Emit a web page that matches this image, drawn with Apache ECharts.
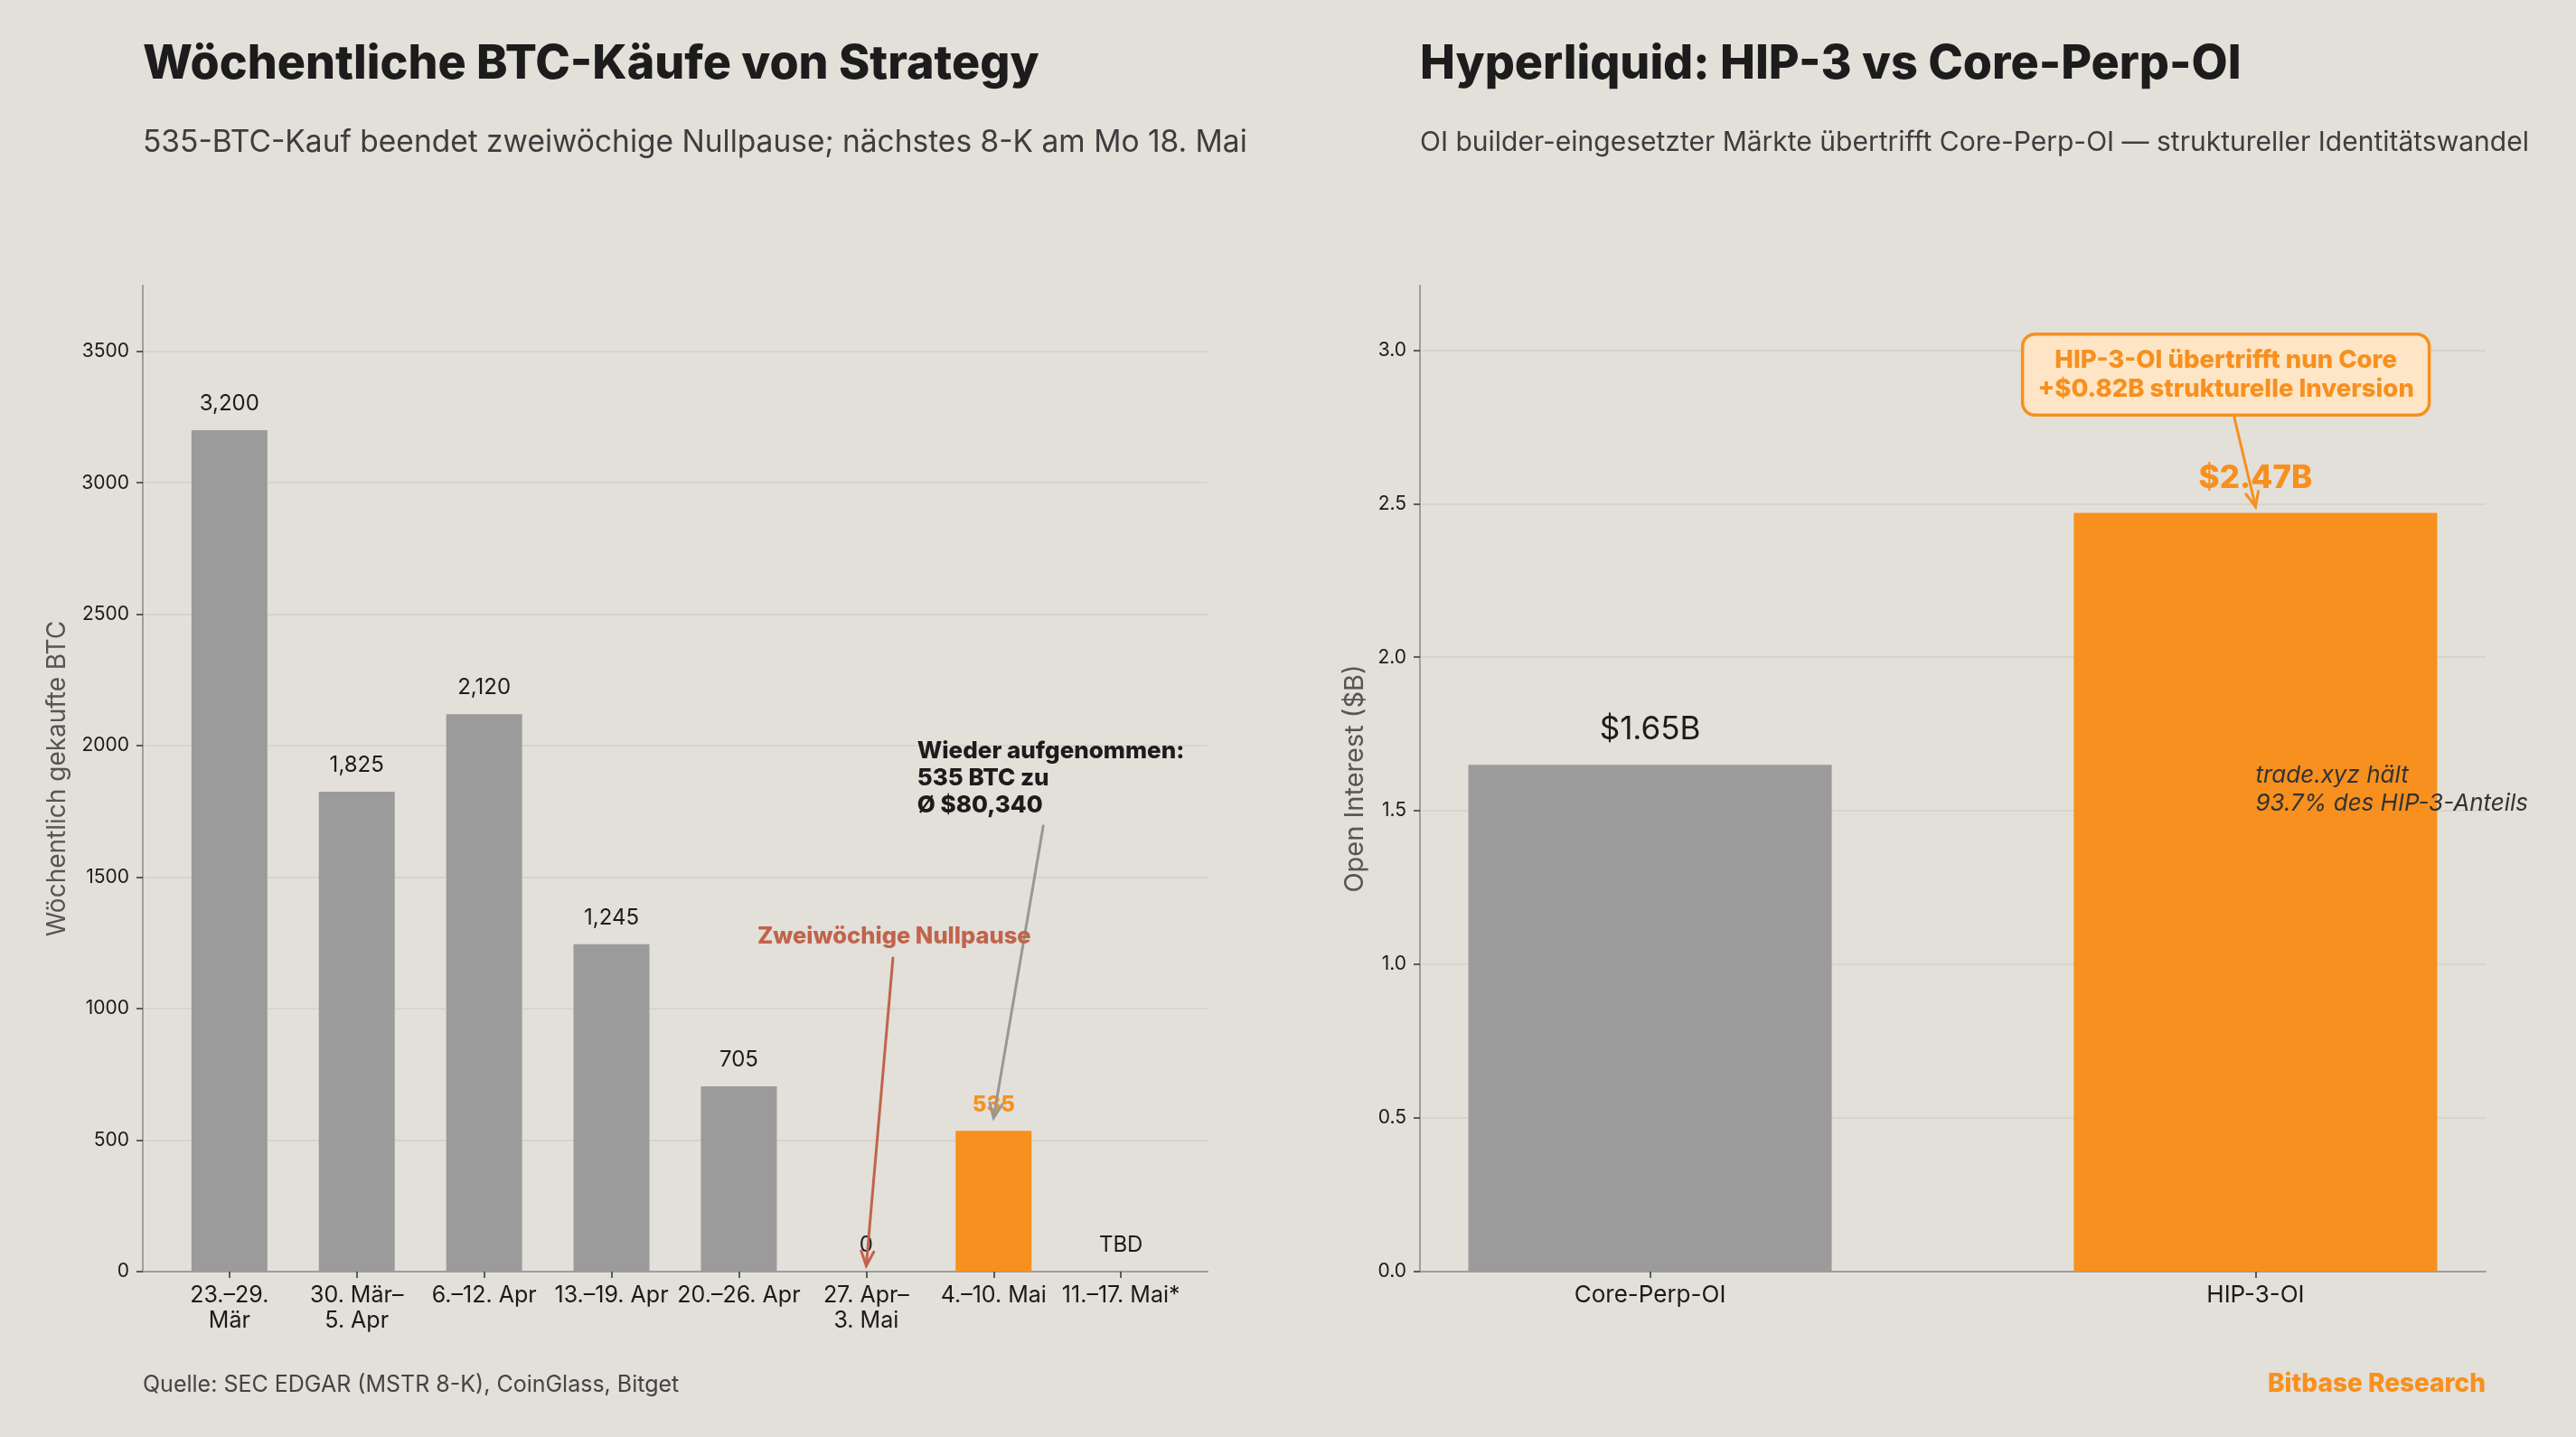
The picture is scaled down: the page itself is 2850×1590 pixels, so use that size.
<!DOCTYPE html>
<html>
<head>
<meta charset="utf-8">
<script src="https://cdn.jsdelivr.net/npm/echarts@6/dist/echarts.min.js"></script>
<style>
html, body { margin: 0; padding: 0; background: #e3dfd9; }
#chart { width: 2850px; height: 1590px; }
</style>
</head>
<body>
<div id="chart"></div>
<script>
// linke Grafik: wöchentliche Käufe
var weekCats = ['23.–29.\nMär', '30. Mär–\n5. Apr', '6.–12. Apr', '13.–19. Apr', '20.–26. Apr', '27. Apr–\n3. Mai', '4.–10. Mai', '11.–17. Mai*'];
var weekBtc = [3200, 1825, 2120, 1245, 705, 0, 535, 0];
var weekLabels = ['3,200', '1,825', '2,120', '1,245', '705', '0', '535', 'TBD'];
var btcTicks = [0, 500, 1000, 1500, 2000, 2500, 3000, 3500];

// rechte Grafik: Open Interest
var oiCats = ['Core-Perp-OI', 'HIP-3-OI'];
var oiValues = [1.65, 2.47];
var oiLabels = ['$1.65B', '$2.47B'];
var oiTicks = [0, 0.5, 1, 1.5, 2, 2.5, 3];

var FONT = 'Inter, "Noto Sans", sans-serif';
var ORANGE = '#f7901e';
var GRAY = '#9b9b9b';
var RED = '#c0644c';
var GRID = '#d3cfc9';
var AXIS = '#9e9e9e';

var chart = echarts.init(document.getElementById('chart'));

function idx(arr) {
    return arr.map(function (t, i) { return i; });
}

function xAxisOf(grid, min, max, cats, fs) {
    return {
        type: 'value', gridIndex: grid, min: min, max: max,
        splitLine: {show: false},
        axisLine: {show: true, onZero: false, lineStyle: {color: AXIS, width: 2}},
        axisTick: {show: true, length: 7, customValues: idx(cats), lineStyle: {color: '#333', width: 1.5}},
        axisLabel: {
            customValues: idx(cats), margin: 12,
            formatter: function (v) { return cats[Math.round(v)]; },
            fontFamily: FONT, fontSize: fs, color: '#1a1a1a', lineHeight: 28
        }
    };
}

function yAxisOf(grid, max, ticks, name, gap, nfs, fmt) {
    return {
        type: 'value', gridIndex: grid, min: 0, max: max,
        name: name, nameLocation: 'middle', nameGap: gap,
        nameTextStyle: {fontFamily: FONT, fontSize: nfs, color: '#555'},
        axisLine: {show: true, onZero: false, lineStyle: {color: AXIS, width: 2}},
        axisTick: {show: true, length: 7, customValues: ticks, lineStyle: {color: '#333', width: 1.5}},
        splitLine: {show: true, lineStyle: {color: GRID, width: 1.5}},
        axisLabel: {customValues: ticks, margin: 15, formatter: fmt, fontFamily: FONT, fontSize: 21, color: '#1a1a1a'}
    };
}

function arrow(p1, p2, color, w) {
    var dx = p2[0] - p1[0], dy = p2[1] - p1[1];
    var len = Math.sqrt(dx * dx + dy * dy);
    var ux = dx / len, uy = dy / len, hl = 16, hw = 7;
    var bx = p2[0] - ux * hl, by = p2[1] - uy * hl;
    return [{
        type: 'line',
        shape: {x1: p1[0], y1: p1[1], x2: p2[0], y2: p2[1]},
        style: {stroke: color, lineWidth: w, lineCap: 'round'}
    }, {
        type: 'polyline',
        shape: {points: [[bx - uy * hw, by + ux * hw], p2, [bx + uy * hw, by - ux * hw]]},
        style: {stroke: color, lineWidth: w, fill: null, lineCap: 'round'}
    }];
}

// Anmerkungen (Datenkoordinaten)
var leftNotes = [
    {text: 'Wieder aufgenommen:\n535 BTC zu\nØ $80,340', at: [5.4, 1877], align: 'left',
        style: {fill: '#1c1c1c', fontSize: 26, fontWeight: 800, lineHeight: 30},
        from: [6.39, 1695], to: [6.0, 585], color: '#9a9793'},
    {text: 'Zweiwöchige Nullpause', at: [5.22, 1275], align: 'center',
        style: {fill: RED, fontSize: 25.5, fontWeight: 800, lineHeight: 28},
        from: [5.21, 1193], to: [5.0, 22], color: RED}
];
var rightNotes = [
    {text: 'HIP-3-OI übertrifft nun Core\n+$0.82B strukturelle Inversion', at: [0.951, 2.92], align: 'center',
        style: {fill: ORANGE, fontSize: 27.5, fontWeight: 800, lineHeight: 32,
            backgroundColor: '#fde5c6', borderColor: ORANGE, borderWidth: 3.5, borderRadius: 12, padding: [11, 15]},
        from: [0.965, 2.78], to: [1.0, 2.49], color: ORANGE},
    {text: 'trade.xyz hält\n93.7% des HIP-3-Anteils', at: [1.0, 1.57], align: 'left',
        style: {fill: '#333', fontSize: 26, fontStyle: 'italic', lineHeight: 31}}
];

function noteSeries(xi, notes) {
    return {
        type: 'custom', xAxisIndex: xi, yAxisIndex: xi, z: 10, clip: false, silent: true,
        data: notes.map(function (n, i) { return [i]; }),
        renderItem: function (params, api) {
            var n = notes[params.dataIndex];
            var kids = [];
            if (n.from) {
                kids = kids.concat(arrow(api.coord(n.from), api.coord(n.to), n.color, 3));
            }
            var p = api.coord(n.at);
            var st = Object.assign({text: n.text, fontFamily: FONT, align: n.align, verticalAlign: 'middle'}, n.style);
            kids.push({type: 'text', x: p[0], y: p[1], style: st, z2: 5});
            return {type: 'group', children: kids};
        }
    };
}

var weekData = weekBtc.map(function (v, i) {
    var hi = i === 6;
    return {
        value: [i, v],
        itemStyle: {color: hi ? ORANGE : GRAY},
        label: hi ? {color: ORANGE, fontWeight: 800} : {}
    };
});
var oiData = oiValues.map(function (v, i) {
    var hi = i === 1;
    return {
        value: [i, v],
        itemStyle: {color: hi ? ORANGE : GRAY},
        label: hi ? {color: ORANGE, fontWeight: 800} : {}
    };
});

var option = {
    backgroundColor: '#e3dfd9',
    animation: false,
    title: [
        {text: 'Wöchentliche BTC-Käufe von Strategy', left: 158, top: 45, padding: 0,
            textStyle: {fontFamily: FONT, fontSize: 52, fontWeight: 800, color: '#1c1c1c'}},
        {text: '535-BTC-Kauf beendet zweiwöchige Nullpause; nächstes 8-K am Mo 18. Mai', left: 158, top: 141, padding: 0,
            textStyle: {fontFamily: FONT, fontSize: 33.5, fontWeight: 400, color: '#3d3d3d'}},
        {text: 'Hyperliquid: HIP-3 vs Core-Perp-OI', left: 1571, top: 45, padding: 0,
            textStyle: {fontFamily: FONT, fontSize: 52, fontWeight: 800, color: '#1c1c1c'}},
        {text: 'OI builder-eingesetzter Märkte übertrifft Core-Perp-OI — struktureller Identitätswandel', left: 1571, top: 143, padding: 0,
            textStyle: {fontFamily: FONT, fontSize: 30, fontWeight: 400, color: '#3d3d3d'}},
        {text: 'Quelle: SEC EDGAR (MSTR 8-K), CoinGlass, Bitget', left: 158, top: 1520, padding: 0,
            textStyle: {fontFamily: FONT, fontSize: 25, fontWeight: 400, color: '#444'}},
        {text: 'Bitbase Research', right: 100, top: 1518, padding: 0,
            textStyle: {fontFamily: FONT, fontSize: 28, fontWeight: 800, color: ORANGE}}
    ],
    grid: [
        {left: 158, right: 1514, top: 316, bottom: 183},
        {left: 1571, right: 100, top: 316, bottom: 183}
    ],
    xAxis: [
        xAxisOf(0, -0.68, 7.68, weekCats, 25),
        xAxisOf(1, -0.38, 1.38, oiCats, 26)
    ],
    yAxis: [
        yAxisOf(0, 3750, btcTicks, 'Wöchentlich gekaufte BTC', 80, 28, function (v) { return String(v); }),
        yAxisOf(1, 3.21, oiTicks, 'Open Interest ($B)', 57, 29, function (v) { return v.toFixed(1); })
    ],
    series: [{
        type: 'bar', xAxisIndex: 0, yAxisIndex: 0, barWidth: 84,
        data: weekData,
        label: {
            show: true, position: 'top', distance: 17,
            fontFamily: FONT, fontSize: 24, color: '#1c1c1c',
            formatter: function (p) { return weekLabels[p.dataIndex]; }
        }
    }, {
        type: 'bar', xAxisIndex: 1, yAxisIndex: 1, barWidth: 402,
        data: oiData,
        label: {
            show: true, position: 'top', distance: 21,
            fontFamily: FONT, fontSize: 35, color: '#1c1c1c',
            formatter: function (p) { return oiLabels[p.dataIndex]; }
        }
    },
        noteSeries(0, leftNotes),
        noteSeries(1, rightNotes)
    ]
};

chart.setOption(option);
</script>
</body>
</html>
